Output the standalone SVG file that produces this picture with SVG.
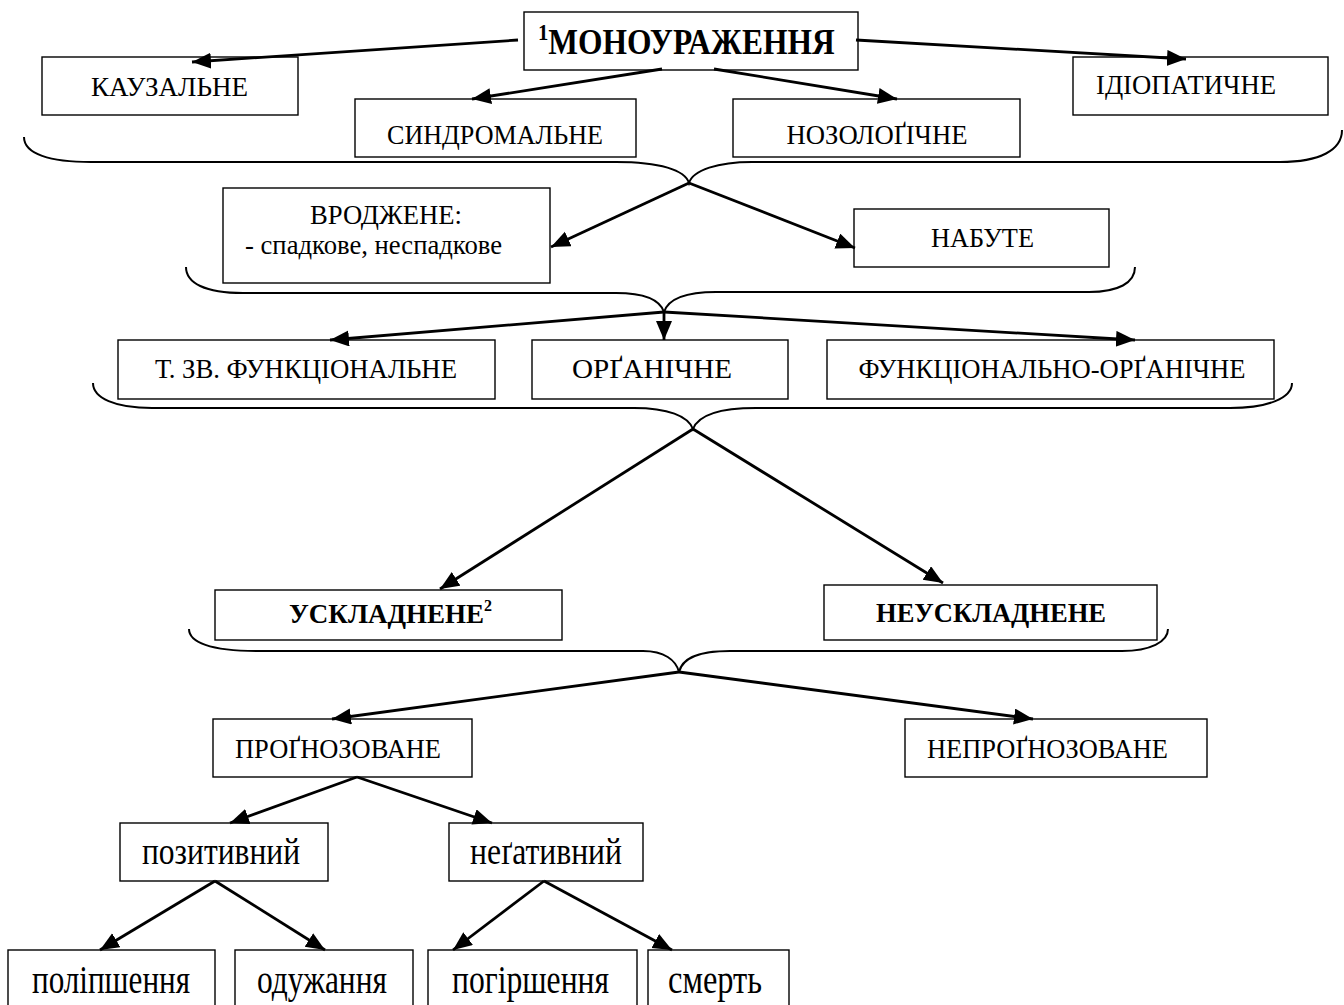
<svg xmlns="http://www.w3.org/2000/svg" width="1344" height="1005" viewBox="0 0 1344 1005">
<style>
.box{fill:#fff;stroke:#000;stroke-width:1.4}
.t{font-family:"Liberation Serif","Times New Roman",serif;font-size:28px;fill:#000}
.b{font-weight:bold}
.bs{font-size:27px}
.lc{font-size:37px}
.lb{font-size:40px}
.brace{fill:none;stroke:#000;stroke-width:2}
.arr{stroke:#000;stroke-width:2.8;fill:none}
</style>
<defs>
<marker id="ah" markerUnits="userSpaceOnUse" markerWidth="22" markerHeight="18" refX="19" refY="8" orient="auto">
<path d="M0,0 L19,8 L0,16 z" fill="#000"/>
</marker>
</defs>
<rect width="1344" height="1005" fill="#fff"/>

<g id="n-mono"><rect class="box" x="524" y="12" width="334" height="58"/>
<text class="t b" style="font-size:35px" transform="translate(538,54) scale(0.9,1)"><tspan style="font-size:23px" dy="-14">1</tspan><tspan dy="14">МОНОУРАЖЕННЯ</tspan></text></g>
<g id="n-kauz"><rect class="box" x="42" y="57" width="256" height="58"/>
<text class="t" x="169.5" y="96" text-anchor="middle" textLength="157" lengthAdjust="spacingAndGlyphs">КАУЗАЛЬНЕ</text></g>
<g id="n-synd"><rect class="box" x="355" y="99" width="281" height="58"/>
<text class="t" x="495" y="144" text-anchor="middle" textLength="216" lengthAdjust="spacingAndGlyphs">СИНДРОМАЛЬНЕ</text></g>
<g id="n-nozo"><rect class="box" x="733" y="99" width="287" height="58"/>
<text class="t" x="877" y="144" text-anchor="middle" textLength="181" lengthAdjust="spacingAndGlyphs">НОЗОЛОҐІЧНЕ</text></g>
<g id="n-idio"><rect class="box" x="1073" y="57" width="255" height="58"/>
<text class="t" x="1186" y="94" text-anchor="middle" textLength="180" lengthAdjust="spacingAndGlyphs">ІДІОПАТИЧНЕ</text></g>
<g id="n-vrod"><rect class="box" x="223" y="188" width="327" height="95"/>
<text class="t" x="386" y="224" text-anchor="middle" textLength="152" lengthAdjust="spacingAndGlyphs">ВРОДЖЕНЕ:</text>
<text class="t" x="245" y="254" textLength="257" lengthAdjust="spacingAndGlyphs">- спадкове, неспадкове</text></g>
<g id="n-nabu"><rect class="box" x="854" y="209" width="255" height="58"/>
<text class="t" x="982.5" y="247" text-anchor="middle" textLength="103" lengthAdjust="spacingAndGlyphs">НАБУТЕ</text></g>
<g id="n-tzv"><rect class="box" x="118" y="340" width="377" height="59"/>
<text class="t" x="306" y="378" text-anchor="middle" textLength="302" lengthAdjust="spacingAndGlyphs">Т. ЗВ. ФУНКЦІОНАЛЬНЕ</text></g>
<g id="n-org"><rect class="box" x="532" y="340" width="256" height="59"/>
<text class="t" x="652" y="378" text-anchor="middle" textLength="160" lengthAdjust="spacingAndGlyphs">ОРҐАНІЧНЕ</text></g>
<g id="n-funorg"><rect class="box" x="827" y="340" width="447" height="59"/>
<text class="t" x="1052" y="378" text-anchor="middle" textLength="387" lengthAdjust="spacingAndGlyphs">ФУНКЦІОНАЛЬНО-ОРҐАНІЧНЕ</text></g>
<g id="n-uskl"><rect class="box" x="215" y="590" width="347" height="50"/>
<text class="t b bs" x="289" y="623"><tspan>УСКЛАДНЕНЕ</tspan><tspan style="font-size:16px" dy="-12">2</tspan></text></g>
<g id="n-neuskl"><rect class="box" x="824" y="585" width="333" height="55"/>
<text class="t b bs" x="991" y="622" text-anchor="middle" textLength="230" lengthAdjust="spacingAndGlyphs">НЕУСКЛАДНЕНЕ</text></g>
<g id="n-progn"><rect class="box" x="213" y="719" width="259" height="58"/>
<text class="t" x="338" y="758" text-anchor="middle" textLength="206" lengthAdjust="spacingAndGlyphs">ПРОҐНОЗОВАНЕ</text></g>
<g id="n-neprogn"><rect class="box" x="905" y="719" width="302" height="58"/>
<text class="t" x="1047.5" y="758" text-anchor="middle" textLength="241" lengthAdjust="spacingAndGlyphs">НЕПРОҐНОЗОВАНЕ</text></g>
<g id="n-poz"><rect class="box" x="120" y="823" width="208" height="58"/>
<text class="t lc" x="221" y="864" text-anchor="middle" textLength="158" lengthAdjust="spacingAndGlyphs">позитивний</text></g>
<g id="n-neg"><rect class="box" x="449" y="823" width="194" height="58"/>
<text class="t lc" x="546" y="864" text-anchor="middle" textLength="152" lengthAdjust="spacingAndGlyphs">неґативний</text></g>
<g id="n-polip"><rect class="box" x="8" y="950" width="207" height="64"/>
<text class="t lb" x="111" y="993" text-anchor="middle" textLength="158" lengthAdjust="spacingAndGlyphs">поліпшення</text></g>
<g id="n-oduzh"><rect class="box" x="235" y="950" width="178" height="64"/>
<text class="t lb" x="322" y="993" text-anchor="middle" textLength="130" lengthAdjust="spacingAndGlyphs">одужання</text></g>
<g id="n-pogir"><rect class="box" x="428" y="950" width="209" height="64"/>
<text class="t lb" x="530.5" y="993" text-anchor="middle" textLength="157" lengthAdjust="spacingAndGlyphs">погіршення</text></g>
<g id="n-smert"><rect class="box" x="648" y="950" width="141" height="64"/>
<text class="t lb" x="715" y="993" text-anchor="middle" textLength="94" lengthAdjust="spacingAndGlyphs">смерть</text></g>

<g id="connectors">
<path class="brace" d="M24,137 C24,154 50,162 91,162 L616,162 C660,162 685,170 689,183 C693,170 718,162 752,162 L1280,162 C1320,162 1342,150 1342,130"/>
<path class="brace" d="M186,267 C186,283 205,293 243,293 L616,293 C645,293 660,300 664,312 C668,300 683,292 716,292 L1089,292 C1118,292 1135,283 1135,267"/>
<path class="brace" d="M93,383 C93,398 115,408 152,408 L634,408 C668,408 688,416 693,429 C698,416 718,408 756,408 L1230,408 C1268,408 1292,398 1292,383"/>
<path class="brace" d="M189,629 C189,642 210,651 257,651 L643,651 C664,651 676,660 679,672 C682,660 694,651 730,651 L1122,651 C1150,651 1168,642 1168,629"/>
<line class="arr" marker-end="url(#ah)" x1="518" y1="40" x2="192" y2="62"/>
<line class="arr" marker-end="url(#ah)" x1="856" y1="40" x2="1186" y2="59"/>
<line class="arr" marker-end="url(#ah)" x1="662" y1="69" x2="472" y2="99"/>
<line class="arr" marker-end="url(#ah)" x1="714" y1="69" x2="897" y2="99"/>
<line class="arr" marker-end="url(#ah)" x1="689" y1="183" x2="551" y2="247"/>
<line class="arr" marker-end="url(#ah)" x1="689" y1="183" x2="855" y2="248"/>
<line class="arr" marker-end="url(#ah)" x1="664" y1="312" x2="330" y2="340"/>
<line class="arr" marker-end="url(#ah)" x1="664" y1="312" x2="664" y2="340"/>
<line class="arr" marker-end="url(#ah)" x1="664" y1="312" x2="1135" y2="340"/>
<line class="arr" marker-end="url(#ah)" x1="693" y1="429" x2="440" y2="589"/>
<line class="arr" marker-end="url(#ah)" x1="693" y1="429" x2="943" y2="583"/>
<line class="arr" marker-end="url(#ah)" x1="679" y1="672" x2="332" y2="719"/>
<line class="arr" marker-end="url(#ah)" x1="679" y1="672" x2="1033" y2="719"/>
<line class="arr" marker-end="url(#ah)" x1="357" y1="777" x2="230" y2="823"/>
<line class="arr" marker-end="url(#ah)" x1="357" y1="777" x2="492" y2="823"/>
<line class="arr" marker-end="url(#ah)" x1="215" y1="881" x2="100" y2="950"/>
<line class="arr" marker-end="url(#ah)" x1="215" y1="881" x2="325" y2="950"/>
<line class="arr" marker-end="url(#ah)" x1="544" y1="881" x2="453" y2="950"/>
<line class="arr" marker-end="url(#ah)" x1="544" y1="881" x2="672" y2="950"/>
</g>
</svg>
